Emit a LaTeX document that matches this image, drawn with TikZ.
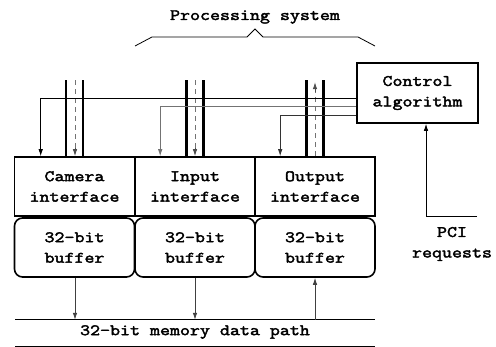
\documentclass[tikz,border=0pt]{standalone}
\usepackage{fontspec}
\newfontfamily\courfont{Latin Modern Mono}[FakeStretch=1.22, FakeBold=2.6]
\usetikzlibrary{arrows.meta,calc}
\begin{document}
\begin{tikzpicture}[x=1pt,y=-1pt,
  txt/.style={font=\courfont\fontsize{15.9}{20.5}\selectfont, align=center, inner sep=0pt},
  ifbox/.style={txt, draw, line width=1.6pt, minimum width=120pt, minimum height=59pt},
  bufbox/.style={ifbox, rounded corners=8pt},
  bus/.style={line width=2.8pt},
  dashbus/.style={draw=black!55, line width=0.9pt, dash pattern=on 5pt off 4pt},
  tip/.style={-{Latex[length=7pt,width=4.5pt]}},
  thin/.style={line width=0.8pt}]
\useasboundingbox (0,0) rectangle (496,347);

% title and brace
\node[txt, anchor=base] (title) at (255,20) {Processing system};
\coordinate (brL) at (135,46);
\coordinate (brR) at (375,46);
\draw[thin] (brL) -- (152,37) -- (247,37) -- (255,29) -- (263,37) -- (358,37) -- (brR);

% interface boxes
\node[ifbox] (cam) at (74.5,186.5) {Camera\\interface};
\node[ifbox] (inp) at (195,186.5) {Input\\interface};
\node[ifbox] (out) at (315,186.5) {Output\\interface};

% buffers
\node[bufbox] (bcam) at (74.5,247.5) {32-bit\\buffer};
\node[bufbox] (binp) at (195,247.5) {32-bit\\buffer};
\node[bufbox] (bout) at (315,247.5) {32-bit\\buffer};

% control
\node[ifbox, minimum width=121pt, minimum height=60pt] (ctrl) at (417.5,93) {Control\\algorithm};

% buses
\foreach \n in {cam, inp, out}{
  \draw[bus] ($(\n.north)+(-8.5,0)$) -- ($(\n.north)+(-8.5,-76)$);
  \draw[bus] ($(\n.north)+(8.5,0)$) -- ($(\n.north)+(8.5,-76)$);
}
\draw[dashbus] ($(cam.north)+(0.5,-76)$) -- ($(cam.north)+(0.5,-6)$);
\draw[tip, black!70, line width=0.8pt] ($(cam.north)+(0.5,-8)$) -- ($(cam.north)+(0.5,0)$);
\draw[dashbus] ($(inp.north)+(0,-76)$) -- ($(inp.north)+(0,-6)$);
\draw[tip, black!70, line width=0.8pt] ($(inp.north)+(0,-8)$) -- (inp.north);
\draw[dashbus] (out.north) -- ($(out.north)+(0,-68)$);
\draw[tip, black!70, line width=0.8pt] ($(out.north)+(0,-64)$) -- ($(out.north)+(0,-74)$);

% control lines
\draw[thin, tip] ($(ctrl.west)+(0,5)$) -| ($(cam.north west)+(27,0)$);
\draw[thin, tip, black!55] ($(ctrl.west)+(0,13.5)$) -| ($(inp.north west)+(26,0)$);
\draw[thin, tip, black!80] ($(ctrl.west)+(0,22)$) -| ($(out.north west)+(26,0)$);

% PCI
\node[txt] (pci) at (452,244) {PCI\\requests};
\coordinate (pciend) at (477,216);
\draw[thin, tip] (pciend) -| ($(ctrl.south)+(8.5,0)$);

% memory data path
\coordinate (mL1) at (15,319);
\coordinate (mR1) at (375,319);
\coordinate (mL2) at (15,346);
\coordinate (mR2) at (375,346);
\draw[thin] (mL1) -- (mR1);
\draw[thin] (mL2) -- (mR2);
\node[txt] (mem) at (195,332) {32-bit memory data path};

\draw[thin, tip, black!75] ($(bcam.south)+(0.5,0)$) -- ($(bcam.south)+(0.5,42)$);
\draw[thin, tip, black!75] (binp.south) -- ($(binp.south)+(0,42)$);
\draw[thin, tip, black!75] ($(bout.south)+(0,42)$) -- (bout.south);
\end{tikzpicture}
\end{document}
